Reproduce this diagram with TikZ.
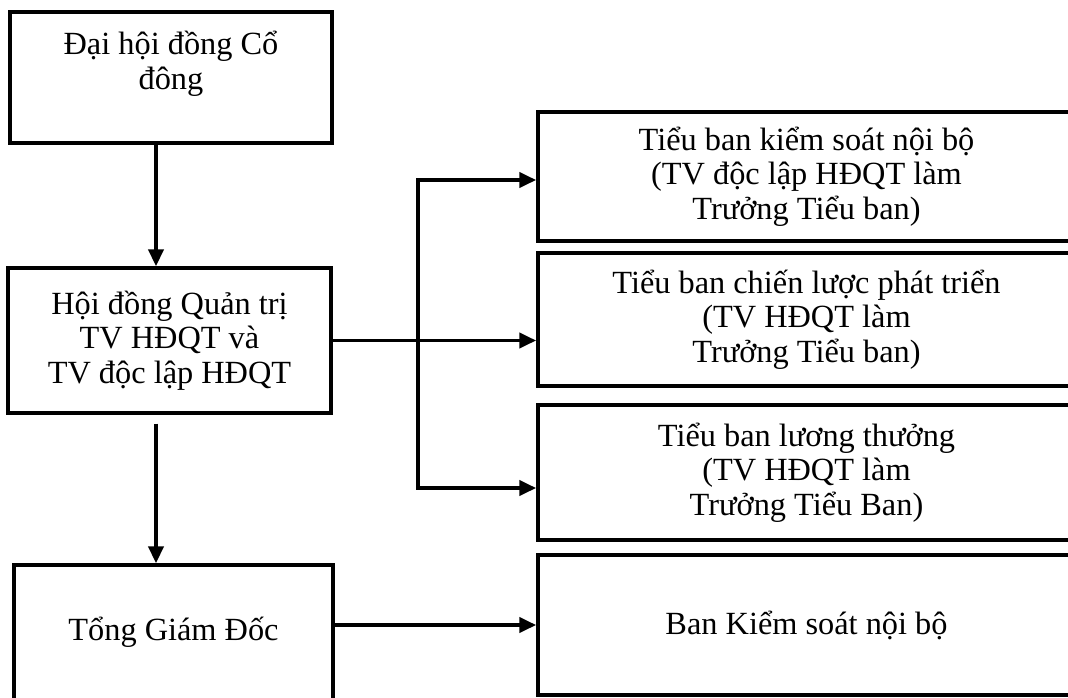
\documentclass[tikz,border=0pt]{standalone}
\usepackage{fontspec}
\setmainfont{Liberation Serif}
\usepackage{tikz}
\usetikzlibrary{arrows.meta}

\begin{document}
\begin{tikzpicture}[x=0.025cm, y=-0.025cm,
  every node/.style={font=\fontsize{23}{24.5}\selectfont, align=center, inner sep=0pt},
  box/.style={draw, line width=2.6pt, rectangle},
  conn/.style={line width=2.5pt},
  arr/.style={conn, -{Triangle[length=0.42cm,width=0.38cm]}}]
\clip (0,0) rectangle (1068,698);
% left column
\node[box, minimum width=8.05cm, minimum height=3.275cm] (dhdcd) at (171,77.5) {Đại hội đồng Cổ\\ đông\\ \mbox{}};
\node[box, minimum width=8.075cm, minimum height=3.625cm] (hdqt) at (169.5,340.5) {Hội đồng Quản trị\\ TV HĐQT và\\ TV độc lập HĐQT};
\node[box, minimum width=7.975cm, minimum height=3.375cm] (tgd) at (173.5,632.5) {Tổng Giám Đốc};
% right column
\node[box, minimum width=13.425cm, minimum height=3.225cm] (tbks) at (806.5,176.5) {Tiểu ban kiểm soát nội bộ\\ (TV độc lập HĐQT làm\\ Trưởng Tiểu ban)};
\node[box, minimum width=13.425cm, minimum height=3.325cm] (tbcl) at (806.5,319.5) {Tiểu ban chiến lược phát triển\\ (TV HĐQT làm\\ Trưởng Tiểu ban)};
\node[box, minimum width=13.425cm, minimum height=3.375cm] (tblt) at (806.5,472.5) {Tiểu ban lương thưởng\\ (TV HĐQT làm\\ Trưởng Tiểu Ban)};
\node[box, minimum width=13.425cm, minimum height=3.5cm] (bks) at (806.5,625) {Ban Kiểm soát nội bộ};
% connectors
\coordinate (ax) at (156,0);
\coordinate (jt) at (418,180);
\coordinate (jb) at (418,488);
\draw[arr] (dhdcd.south -| ax) -- (hdqt.north -| ax);
\draw[arr, shorten <=0.22cm] (hdqt.south -| ax) -- (tgd.north -| ax);
\draw[arr] (hdqt.east) -- (hdqt.east -| tbcl.west);
\draw[conn, line cap=rect] (jt) -- (jb);
\draw[arr] (jt) -- (jt -| tbks.west); \draw[arr] (jb) -- (jb -| tblt.west);
\draw[arr] (bks.west -| tgd.east) -- (bks.west);
\end{tikzpicture}
\end{document}
